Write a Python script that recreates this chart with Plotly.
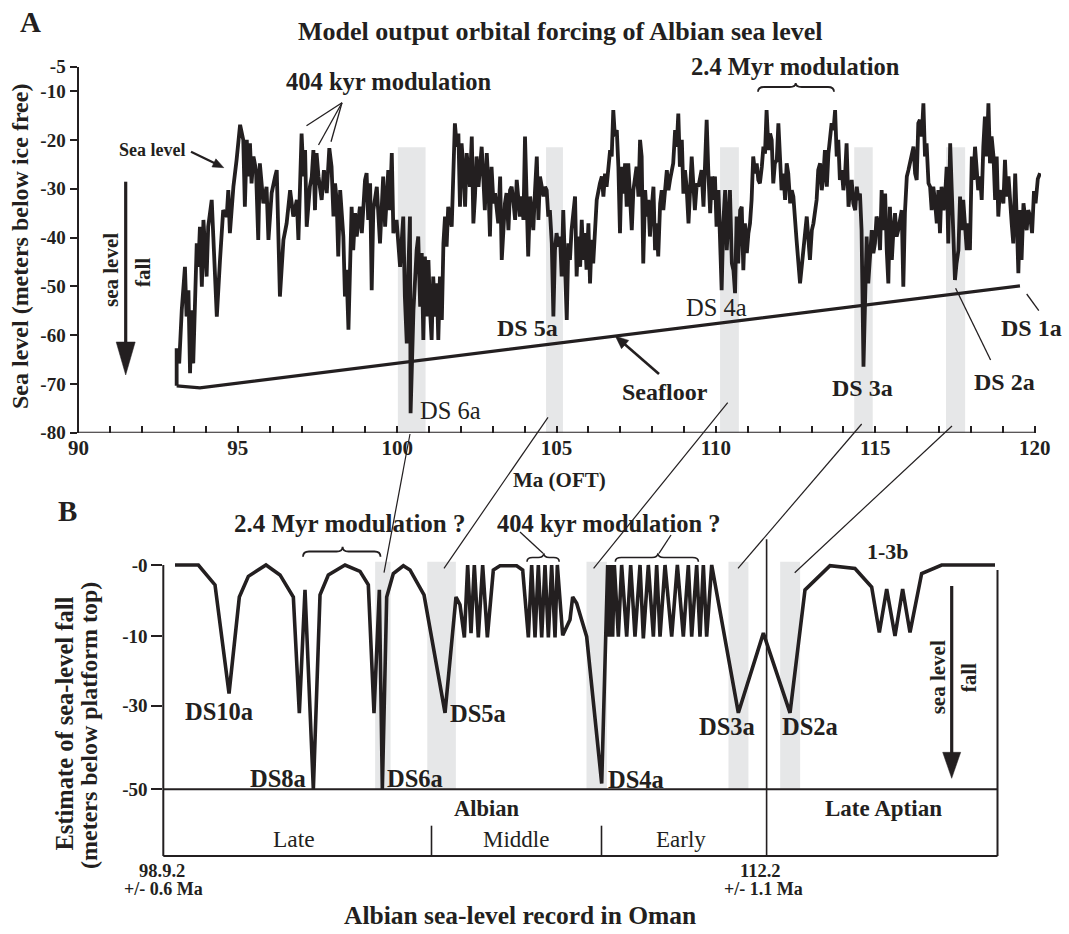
import numpy as np
import plotly.graph_objects as go

# ---------------- data: panel A (model output) ----------------
SEA_AGE_1 = [
    93.08, 93.08, 93.16, 93.24, 93.34, 93.39, 93.45, 93.50, 93.55, 93.60,
    93.71, 93.76, 93.81, 93.87, 93.92, 93.97, 94.02, 94.07, 94.18, 94.23,
    94.34, 94.44, 94.54, 94.65, 94.70, 94.75, 94.86, 94.96, 95.07, 95.17,
    95.22, 95.28, 95.33, 95.38, 95.43, 95.49, 95.57, 95.64, 95.69, 95.80,
    95.90, 95.96, 96.06, 96.17, 96.22, 96.32, 96.43, 96.53, 96.58, 96.64,
    96.74, 96.85, 96.90, 97.00, 97.06, 97.11, 97.16, 97.26, 97.32, 97.37,
    97.42, 97.47, 97.53, 97.63, 97.70, 97.79, 97.87, 97.94, 98.00, 98.05,
    98.10, 98.15, 98.21, 98.31, 98.36, 98.41, 98.47, 98.52, 98.57, 98.62,
    98.68, 98.73, 98.83, 98.89, 98.99, 99.04, 99.09, 99.15, 99.20, 99.25,
    99.36, 99.46, 99.56, 99.62, 99.67, 99.72, 99.77, 99.83, 99.88, 99.98,
    100.09, 100.19, 100.24, 100.30, 100.35, 100.40, 100.42, 100.51, 100.61, 100.66,
    100.72, 100.77, 100.82, 100.87, 100.92, 100.98, 101.03, 101.08, 101.13, 101.19,
    101.24, 101.29, 101.34, 101.40, 101.45, 101.50, 101.55, 101.60, 101.71, 101.76,
    101.81, 101.87, 101.92, 101.97, 102.02, 102.08, 102.13, 102.18, 102.28, 102.34,
    102.39, 102.44, 102.49, 102.55, 102.65, 102.70, 102.75, 102.81, 102.86, 102.91,
    102.96, 103.02, 103.07, 103.17, 103.23, 103.28, 103.38, 103.43, 103.49, 103.54,
    103.59, 103.64, 103.70, 103.75, 103.85, 103.90, 103.96, 104.01, 104.11, 104.17,
    104.27, 104.32, 104.38, 104.43, 104.48, 104.59, 104.64, 104.69, 104.74, 104.79,
    104.85, 104.90, 104.95, 105.00, 105.06, 105.11, 105.16, 105.21, 105.26, 105.32,
    105.37, 105.42, 105.47, 105.53, 105.58, 105.63, 105.68, 105.74, 105.79, 105.84,
    105.89, 105.94, 106.00, 106.05, 106.10, 106.15, 106.26, 106.36,
]
SEA_LEVEL_1 = [
    -70.4, -62.7, -65.8, -54.9, -46.0, -56.2, -50.8, -67.8, -54.9, -65.8,
    -41.2, -46.0, -37.8, -50.1, -36.4, -42.6, -48.0, -37.8, -32.3, -39.8,
    -56.2, -44.6, -34.4, -35.7, -30.3, -39.1, -29.6, -24.1, -16.9, -20.0,
    -33.7, -20.0, -27.5, -20.7, -28.9, -23.4, -26.2, -40.5, -24.8, -33.0,
    -29.6, -40.5, -30.9, -27.5, -26.2, -52.1, -40.5, -37.1, -34.4, -30.3,
    -35.7, -32.3, -40.5, -18.7, -27.5, -22.1, -37.8, -29.6, -27.5, -22.1,
    -34.4, -22.7, -27.5, -32.3, -26.2, -30.9, -21.7, -25.5, -35.7, -28.9,
    -32.3, -43.9, -30.3, -39.8, -52.1, -46.6, -58.9, -48.0, -33.7, -42.6,
    -35.0, -39.8, -33.7, -39.1, -28.2, -26.8, -36.4, -28.9, -50.8, -34.4,
    -29.6, -41.2, -27.5, -37.8, -32.3, -26.2, -34.4, -22.7, -39.1, -36.4,
    -46.0, -35.7, -52.1, -61.7, -46.6, -35.7, -76.0, -54.9, -42.6, -39.8,
    -54.2, -43.2, -61.0, -43.9, -56.2, -44.6, -54.9, -61.0, -48.0, -56.2,
    -49.4, -61.0, -48.0, -56.9, -41.2, -35.7, -41.9, -33.7, -37.8, -29.6,
    -16.6, -21.4, -18.7, -33.7, -20.7, -26.2, -33.7, -22.7, -29.6, -19.3,
    -37.1, -31.6, -23.4, -29.6, -21.4, -27.5, -34.4, -22.7, -28.9, -39.8,
    -25.5, -33.0, -30.9, -37.1, -27.5, -44.6, -33.0, -30.9, -38.5, -30.3,
    -29.6, -32.3, -36.4, -28.2, -35.7, -31.6, -36.4, -19.3, -43.9, -31.6,
    -38.5, -30.9, -23.4, -36.4, -27.5, -31.6, -29.6, -30.3, -35.7, -34.4,
    -41.2, -56.2, -42.6, -39.1, -41.9, -39.8, -48.0, -34.4, -44.6, -56.9,
    -41.2, -44.6, -38.5, -35.0, -31.6, -48.0, -39.8, -46.0, -36.4, -44.6,
    -39.1, -46.6, -37.1, -49.4, -40.5, -45.3, -32.3, -28.9,
]
SEA_AGE_2 = [
    106.42, 106.47, 106.52, 106.57, 106.63, 106.68, 106.73, 106.78, 106.83, 106.89,
    106.94, 106.99, 107.04, 107.10, 107.15, 107.20, 107.25, 107.30, 107.36, 107.41,
    107.51, 107.57, 107.62, 107.67, 107.72, 107.78, 107.83, 107.88, 107.93, 107.98,
    108.04, 108.09, 108.14, 108.19, 108.25, 108.30, 108.35, 108.46, 108.51, 108.56,
    108.66, 108.72, 108.77, 108.82, 108.87, 108.93, 108.98, 109.03, 109.08, 109.14,
    109.19, 109.24, 109.34, 109.40, 109.45, 109.55, 109.61, 109.66, 109.71, 109.76,
    109.82, 109.87, 109.92, 109.97, 110.02, 110.08, 110.13, 110.18, 110.23, 110.29,
    110.34, 110.39, 110.44, 110.50, 110.55, 110.60, 110.65, 110.70, 110.76, 110.81,
    110.86, 110.91, 110.97, 111.02, 111.07, 111.12, 111.17, 111.23, 111.28, 111.33,
    111.38, 111.44, 111.49, 111.54, 111.59, 111.65, 111.70, 111.75, 111.80, 111.85,
    111.91, 111.96, 112.01, 112.06, 112.12, 112.17, 112.22, 112.27, 112.33, 112.38,
    112.43, 112.48, 112.53, 112.64, 112.74, 112.85, 112.95, 113.01, 113.06, 113.16,
    113.21, 113.27, 113.32, 113.37, 113.42, 113.48, 113.53, 113.58, 113.63, 113.69,
    113.74, 113.79, 113.84, 113.89, 113.95, 114.00, 114.05, 114.10, 114.16, 114.21,
    114.26, 114.31, 114.37, 114.42, 114.47, 114.52, 114.57, 114.63, 114.68, 114.73,
    114.78, 114.84, 114.89, 114.94, 114.99, 115.04, 115.10, 115.15, 115.20, 115.25,
    115.31, 115.36, 115.41, 115.46, 115.52, 115.57, 115.62, 115.67, 115.72, 115.83,
    115.88, 115.93, 115.99, 116.04, 116.09, 116.14, 116.20, 116.25, 116.30, 116.35,
    116.40, 116.46, 116.51, 116.56, 116.61, 116.67, 116.72, 116.77, 116.82, 116.87,
    116.93, 116.98, 117.03, 117.08, 117.14, 117.19, 117.24, 117.29, 117.35, 117.40,
    117.45, 117.50, 117.55, 117.61, 117.66, 117.71, 117.76, 117.82, 117.87, 117.92,
    117.97, 118.03, 118.08, 118.13, 118.18, 118.23, 118.29, 118.34, 118.39, 118.44,
    118.50, 118.55, 118.60, 118.65, 118.71, 118.76, 118.81, 118.86, 118.91, 119.02,
    119.07, 119.12, 119.18, 119.23, 119.28, 119.33, 119.39, 119.44, 119.49, 119.54,
    119.59, 119.65, 119.75, 119.80, 119.86, 119.92, 119.98, 120.03, 120.10, 120.17,
]
SEA_LEVEL_2 = [
    -27.5, -31.6, -26.9, -29.6, -25.5, -22.1, -23.4, -13.9, -19.3, -18.0,
    -25.5, -39.1, -25.5, -31.0, -24.8, -33.7, -24.8, -31.6, -38.5, -30.3,
    -25.5, -31.6, -20.0, -23.4, -45.3, -30.3, -35.7, -32.3, -39.8, -34.4,
    -29.6, -42.6, -37.1, -43.9, -33.0, -30.3, -34.4, -26.2, -30.3, -28.2,
    -24.8, -18.0, -21.4, -14.6, -25.5, -20.0, -31.0, -26.2, -29.6, -37.1,
    -28.2, -23.4, -34.4, -28.9, -29.6, -26.2, -33.7, -23.4, -15.9, -26.2,
    -35.0, -27.5, -32.3, -27.5, -37.8, -30.3, -39.1, -50.8, -37.1, -30.3,
    -42.6, -36.4, -30.3, -45.3, -46.7, -51.4, -35.7, -45.3, -34.4, -33.7,
    -46.7, -37.1, -43.2, -39.1, -37.1, -32.3, -23.4, -26.9, -24.8, -28.2,
    -28.9, -25.5, -21.4, -22.8, -13.9, -22.1, -18.7, -20.0, -28.9, -24.8,
    -24.1, -16.6, -26.2, -30.3, -26.9, -32.3, -24.8, -26.9, -33.0, -30.3,
    -31.6, -37.1, -40.5, -49.4, -41.9, -35.7, -44.6, -38.5, -37.1, -32.3,
    -26.2, -24.8, -30.3, -27.5, -22.1, -29.6, -22.8, -18.7, -16.6, -18.0,
    -13.9, -23.4, -20.0, -28.2, -26.2, -30.3, -27.5, -20.7, -33.7, -30.3,
    -28.2, -33.0, -34.4, -29.6, -32.3, -31.0, -38.5, -66.5, -48.0, -39.8,
    -49.4, -41.9, -38.5, -43.2, -41.2, -35.7, -37.1, -42.6, -30.3, -38.5,
    -31.0, -42.6, -49.4, -33.7, -44.6, -38.5, -35.0, -39.8, -38.5, -34.4,
    -50.1, -35.0, -27.5, -26.2, -24.8, -23.4, -21.4, -26.9, -28.2, -16.6,
    -15.9, -19.3, -12.5, -23.4, -20.7, -28.9, -29.6, -34.4, -29.6, -32.3,
    -37.1, -30.3, -39.1, -29.6, -34.4, -31.6, -25.5, -41.2, -20.7, -30.3,
    -39.8, -48.7, -45.3, -42.6, -31.6, -38.5, -32.3, -39.8, -42.6, -37.1,
    -42.6, -23.4, -28.2, -21.4, -25.5, -30.3, -27.5, -32.3, -21.4, -15.2,
    -23.4, -12.5, -24.8, -19.3, -23.4, -32.3, -23.4, -35.7, -30.3, -33.0,
    -24.1, -31.6, -27.5, -33.7, -37.1, -41.2, -26.9, -36.4, -47.3, -34.4,
    -44.6, -33.0, -38.5, -34.4, -35.7, -39.1, -30.5, -33.0, -28.0, -26.8,
]
SEAFLOOR_AGE = [93.08, 93.81, 119.54]
SEAFLOOR_LEVEL = [-70.4, -70.8, -49.9]

A_BAND_START = [100.02, 104.67, 110.13, 114.34, 117.22]
A_BAND_END = [100.89, 105.20, 110.72, 114.92, 117.82]
A_BAND_TOP = -21.5

A_YTICKS = [-5, -10, -20, -30, -40, -50, -60, -70, -80]
A_YTICK_TEXT = ["-5", "-10", "-20", "-30", "-40", "-50", "-60", "-70", "-80"]

# ---------------- data: panel B (Oman record) ----------------
B_AGE = [
    99.158, 99.673, 100.040, 100.349, 100.576, 100.775, 101.164, 101.473, 101.767, 101.899,
    102.024, 102.208, 102.355, 102.538, 102.906, 103.237, 103.420, 103.545, 103.663, 103.729,
    103.825, 103.971, 104.192, 104.339, 104.648, 105.111, 105.353, 105.441, 105.537, 105.610,
    105.684, 105.757, 105.845, 105.941, 106.044, 106.176, 106.323, 106.690, 106.823, 106.948,
    107.021, 107.095, 107.168, 107.242, 107.315, 107.389, 107.462, 107.536, 107.587, 107.705,
    107.866, 107.925, 108.013, 108.234, 108.565, 108.660, 108.697, 108.734, 108.770, 108.807,
    108.844, 108.932, 109.005, 109.116, 109.204, 109.299, 109.410, 109.483, 109.593, 109.704,
    109.777, 109.851, 109.961, 110.108, 110.233, 110.365, 110.475, 110.549, 110.659, 110.732,
    110.806, 110.879, 110.990, 111.578, 112.129, 112.717, 113.047, 113.598, 114.149, 114.517,
    114.686, 114.848, 115.031, 115.200, 115.362, 115.619, 116.060, 117.236,
]
B_FALL = [
    0.0, 0.0, -2.8, -26.5, -4.5, -1.6, 0.0, -1.4, -4.5, -31.8,
    -3.5, -50.0, -4.2, -1.4, 0.0, -0.9, -2.8, -31.8, -3.5, -50.0,
    -4.5, -1.2, -0.1, -0.7, -4.2, -31.7, -4.5, -5.6, -10.4, 0.0,
    -9.6, 0.0, -10.4, 0.0, -10.4, -0.7, -0.1, -0.1, -0.7, -10.4,
    0.0, -10.4, 0.0, -10.4, 0.0, -10.4, 0.0, -10.4, 0.0, -9.9,
    -7.7, -4.5, -5.4, -10.2, -48.6, -10.2, 0.0, -10.2, 0.0, -10.2,
    0.0, -10.2, 0.0, -10.2, 0.0, -10.2, 0.0, -10.7, 0.0, -10.2,
    0.0, -10.2, 0.0, -10.2, 0.0, -10.2, 0.0, -10.2, 0.0, -10.2,
    0.0, -10.2, 0.0, -31.7, -9.6, -31.7, -3.5, -0.1, -0.5, -3.1,
    -9.5, -3.4, -10.0, -3.4, -9.5, -1.2, 0.0, 0.0,
]
B_BAND_START = [103.57, 104.72, 108.23, 111.36, 112.50]
B_BAND_END = [103.91, 105.35, 108.68, 111.80, 112.94]
# the schematic fall axis of panel B is not linear: tick values and their drawn heights
B_TICK_FALL = [-50, -30, -10, 0]
B_TICK_POS = [-224.3, -140.7, -71.0, 0.0]
B_TICK_TEXT = ["-50", "-30", "-10", "-0"]
B_BAND_TOP = 3.3

# ---------------- styling / layout helpers ----------------
W, H = 1069, 934
INK = "#231f20"
GREY = "#e6e7e8"
FONT = "Liberation Serif, Times New Roman, serif"


def PX(x):
    return x / W


def PY(y):
    return 1 - y / H


def fall_to_plot(v):
    return np.interp(v, B_TICK_FALL, B_TICK_POS)


fig = go.Figure()
fig.add_trace(go.Scatter(
    x=SEA_AGE_1 + SEA_AGE_2, y=SEA_LEVEL_1 + SEA_LEVEL_2, mode="lines",
    line=dict(color=INK, width=3.8), xaxis="x", yaxis="y", hoverinfo="skip"))
fig.add_trace(go.Scatter(
    x=SEAFLOOR_AGE, y=SEAFLOOR_LEVEL, mode="lines",
    line=dict(color=INK, width=3.2), xaxis="x", yaxis="y", hoverinfo="skip"))
fig.add_trace(go.Scatter(
    x=B_AGE, y=fall_to_plot(B_FALL), mode="lines",
    line=dict(color=INK, width=3.6), xaxis="x2", yaxis="y2", hoverinfo="skip"))

shapes = []
for s, e in zip(A_BAND_START, A_BAND_END):
    shapes.append(dict(type="rect", xref="x", yref="y", x0=s, x1=e, y0=-80, y1=A_BAND_TOP,
                       fillcolor=GREY, line=dict(width=0), layer="below"))
for s, e in zip(B_BAND_START, B_BAND_END):
    shapes.append(dict(type="rect", xref="x2", yref="y2", x0=s, x1=e,
                       y0=B_TICK_POS[0], y1=B_BAND_TOP,
                       fillcolor=GREY, line=dict(width=0), layer="below"))

shapes.append(dict(type="line", xref="x", yref="y", x0=90, x1=120, y0=-80, y1=-80,
                   line=dict(color=INK, width=2)))


def seg(x0, y0, x1, y1, w=1.3):
    shapes.append(dict(type="line", xref="paper", yref="paper",
                       x0=PX(x0), y0=PY(y0), x1=PX(x1), y1=PY(y1),
                       line=dict(color=INK, width=w)))


def arrow(x0, y0, x1, y1, w, hl, hw):
    d = np.array([x1 - x0, y1 - y0], float)
    u = d / np.hypot(*d)
    p = np.array([-u[1], u[0]])
    base = np.array([x1, y1]) - hl * u
    seg(x0, y0, base[0] + 0.3 * hl * u[0], base[1] + 0.3 * hl * u[1], w)
    a = base + hw * p
    b = base - hw * p
    path = (f"M {PX(a[0])},{PY(a[1])} L {PX(x1)},{PY(y1)} "
            f"L {PX(b[0])},{PY(b[1])} Z")
    shapes.append(dict(type="path", xref="paper", yref="paper", path=path,
                       fillcolor=INK, line=dict(color=INK, width=0.5)))


def brace(x0, x1, xm, y_end, y_sp, y_ap, w=1.8):
    r = min(6.0, (xm - x0) / 3.0)
    pts = [
        f"M {PX(x0)},{PY(y_end)}",
        f"Q {PX(x0)},{PY(y_sp)} {PX(x0 + r)},{PY(y_sp)}",
        f"L {PX(xm - r)},{PY(y_sp)}",
        f"Q {PX(xm)},{PY(y_sp)} {PX(xm)},{PY(y_ap)}",
        f"Q {PX(xm)},{PY(y_sp)} {PX(xm + r)},{PY(y_sp)}",
        f"L {PX(x1 - r)},{PY(y_sp)}",
        f"Q {PX(x1)},{PY(y_sp)} {PX(x1)},{PY(y_end)}",
    ]
    shapes.append(dict(type="path", xref="paper", yref="paper", path=" ".join(pts),
                       line=dict(color=INK, width=w)))


# panel A pointers
seg(342, 102.7, 306.5, 125.7)
seg(342, 102.7, 318.5, 145)
seg(342, 102.7, 331, 141.7)
arrow(191, 151.7, 223.8, 167.7, 2.2, 11, 4.5)
arrow(659, 374, 615.3, 336, 2.6, 13, 5.5)
seg(955.6, 288.3, 990.6, 360)
seg(1026.7, 294, 1038.8, 310.7)
arrow(125.7, 181.7, 125.7, 375, 3.2, 33, 9.5)
brace(758, 834, 795.7, 91.7, 87, 83)

# connectors between panels
seg(410, 434, 384, 572.7, 1.2)
seg(548, 417.3, 444, 568.3, 1.2)
seg(727.7, 402.7, 593.6, 568.3, 1.2)
seg(861.7, 424, 738, 568.3, 1.2)
seg(952, 426, 794.7, 572.7, 1.2)

# panel B frame and stage boxes
seg(163.3, 565, 163.3, 856, 2)
seg(163.3, 789.3, 997.5, 789.3, 2)
seg(163.3, 856, 997.5, 856, 2.2)
seg(997.5, 570, 997.5, 856, 2)
seg(766.6, 539.3, 766.6, 856, 1.6)
seg(431.5, 825.7, 431.5, 856, 1.6)
seg(601.5, 825.7, 601.5, 856, 1.6)

# panel B braces / pointers / arrow
brace(303, 380.5, 342.6, 556.7, 551.5, 546.7)
brace(527, 559.2, 543.8, 561.7, 557.5, 553.3, 1.6)
brace(615.3, 698.4, 657.9, 561.7, 557.5, 553.3, 1.6)
seg(520, 532, 543, 553.3)
seg(671, 535, 659, 553.3)
arrow(951.7, 586, 951.7, 778.3, 3.2, 26, 9)

annotations = []


def text(x, y, s, size, bold=True, angle=0, color=INK):
    annotations.append(dict(
        x=PX(x), y=PY(y), xref="paper", yref="paper", text=s, showarrow=False,
        xanchor="center", yanchor="middle", textangle=angle,
        font=dict(family=FONT, size=size, color=color, weight="bold" if bold else "normal")))


text(30, 21.7, "A", 29)
text(67, 511, "B", 29)
text(560.5, 31.7, "Model output orbital forcing of Albian sea level", 26)
text(20, 247, "Sea level (meters below ice free)", 24, angle=-90)
text(388, 81.7, "404 kyr modulation", 24.5)
text(795.6, 66.7, "2.4 Myr modulation", 24.5)
text(152, 150, "Sea level", 18)
text(111, 270, "sea level", 21, angle=-90)
text(143, 273, "fall", 21, angle=-90)
text(450.6, 410, "DS 6a", 24.5, bold=False)
text(527, 328, "DS 5a", 24)
text(716.5, 307.3, "DS 4a", 24.5, bold=False)
text(665, 391.7, "Seafloor", 24)
text(862, 388.3, "DS 3a", 24)
text(1004, 381.7, "DS 2a", 24)
text(1031.6, 328.3, "DS 1a", 24)
text(559.5, 480, "Ma (OFT)", 21)

text(350, 523, "2.4 Myr modulation ?", 25)
text(609, 523, "404 kyr modulation ?", 24.5)
text(888, 551.7, "1-3b", 22)
text(938.3, 677, "sea level", 21, angle=-90)
text(969.3, 678, "fall", 21, angle=-90)
text(218.8, 711.7, "DS10a", 24.5)
text(277.5, 778.3, "DS8a", 24.5)
text(415, 778.3, "DS6a", 24.5)
text(478.3, 713.3, "DS5a", 24.5)
text(635.8, 779.3, "DS4a", 24.5)
text(727, 726.7, "DS3a", 24.5)
text(809.5, 726.7, "DS2a", 24.5)
text(487, 808.3, "Albian", 22.5)
text(883, 808.3, "Late Aptian", 23)
text(293.7, 839.3, "Late", 23.5, bold=False)
text(516, 839.3, "Middle", 23, bold=False)
text(680.6, 839.3, "Early", 23, bold=False)
text(161.8, 871, "98.9.2", 18.5)
text(163.6, 889.3, "+/- 0.6 Ma", 18)
text(760.3, 871, "112.2", 18.5)
text(763, 889.3, "+/- 1.1 Ma", 18)
text(64, 723.5, "Estimate of sea-level fall", 24.5, angle=-90)
text(89, 726, "(meters below platform top)", 24, angle=-90)
text(519.7, 915, "Albian sea-level record in Oman", 25.5)

tickfont = dict(family=FONT, size=19, color=INK, weight="bold")

fig.update_layout(
    width=W, height=H, margin=dict(l=0, r=0, t=0, b=0),
    paper_bgcolor="white", plot_bgcolor="rgba(0,0,0,0)", showlegend=False,
    xaxis=dict(domain=[PX(78.5), PX(1041.0)], range=[90, 120.2], anchor="y",
               tickmode="linear", tick0=90, dtick=5, ticks="inside", ticklen=7,
               tickwidth=1.5, tickcolor=INK, showline=False, showgrid=False,
               zeroline=False, tickfont=dict(family=FONT, size=21, color=INK, weight="bold"),
               minor=dict(tickmode="linear", tick0=90, dtick=1, ticks="inside",
                          ticklen=7, tickwidth=1.5, tickcolor=INK, showgrid=False),
               automargin=False),
    yaxis=dict(domain=[PY(432.7), PY(66.7)], range=[-80, -5], anchor="x",
               tickmode="array", tickvals=A_YTICKS, ticktext=A_YTICK_TEXT,
               ticks="outside", ticklen=7, tickwidth=1.5, tickcolor=INK,
               showline=True, linewidth=2, linecolor=INK, showgrid=False,
               zeroline=False, tickfont=tickfont, automargin=False),
    xaxis2=dict(domain=[PX(163.3), PX(997.5)], range=[98.9, 117.291], anchor="y2",
                visible=False, automargin=False),
    yaxis2=dict(domain=[PY(789.3), PY(555)], range=[B_TICK_POS[0], 10], anchor="x2",
                tickmode="array", tickvals=B_TICK_POS, ticktext=B_TICK_TEXT,
                ticks="outside", ticklen=11, tickwidth=2, tickcolor=INK,
                showline=False, showgrid=False, zeroline=False,
                tickfont=tickfont, automargin=False),
    shapes=shapes, annotations=annotations,
)

fig.write_html("out.html", config={"displayModeBar": False},
               post_script="document.body.style.margin='0px';document.body.style.padding='0px';")
